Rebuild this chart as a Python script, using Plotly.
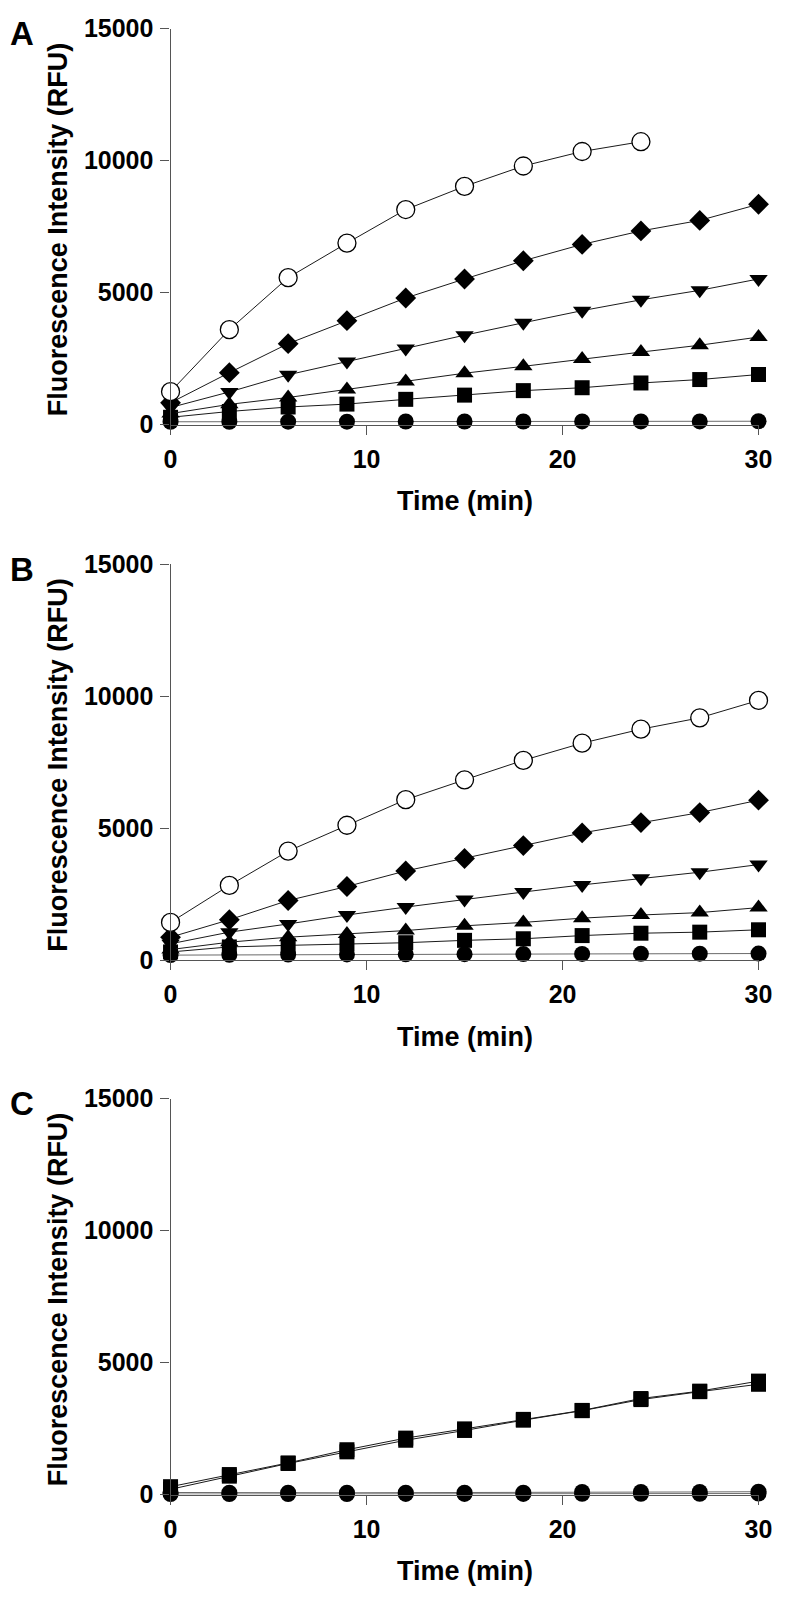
import plotly.graph_objects as go

# ---------------- data ----------------
time = [0, 3, 6, 9, 12, 15, 18, 21, 24, 27, 30]
time_open_A = [0, 3, 6, 9, 12, 15, 18, 21, 24]

A_open = [1250, 3600, 5570, 6880, 8150, 9030, 9800, 10350, 10720]
A_diamond = [830, 1970, 3070, 3940, 4800, 5520, 6210, 6830, 7340, 7740, 8350]
A_tri_down = [650, 1240, 1890, 2390, 2890, 3390, 3860, 4320, 4730, 5090, 5520]
A_tri_up = [420, 770, 1030, 1330, 1640, 1950, 2210, 2490, 2750, 3010, 3320]
A_square = [280, 500, 670, 780, 960, 1120, 1290, 1400, 1580, 1710, 1900]
A_circle = [110, 110, 115, 115, 120, 120, 120, 125, 125, 125, 130]

B_open = [1430, 2830, 4130, 5110, 6080, 6830, 7570, 8220, 8750, 9180, 9840]
B_diamond = [870, 1530, 2260, 2790, 3380, 3850, 4340, 4820, 5210, 5590, 6060]
B_tri_down = [620, 1060, 1370, 1710, 2010, 2300, 2580, 2850, 3100, 3330, 3620]
B_tri_up = [400, 680, 870, 990, 1120, 1300, 1430, 1590, 1710, 1800, 1990]
B_square = [310, 500, 560, 620, 660, 750, 810, 930, 1020, 1060, 1150]
B_circle = [190, 200, 210, 215, 220, 225, 230, 235, 240, 245, 250]

C_square1 = [300, 760, 1200, 1700, 2140, 2490, 2850, 3190, 3640, 3920, 4300]
C_square2 = [200, 700, 1180, 1620, 2060, 2430, 2820, 3180, 3600, 3900, 4180]
C_circle1 = [80, 70, 70, 70, 75, 75, 75, 100, 100, 100, 110]
C_circle2 = [20, 20, 20, 20, 25, 25, 25, 30, 30, 30, 40]

y_ticks = [0, 5000, 10000, 15000]
x_ticks = [0, 10, 20, 30]
panel_letters = ["A", "B", "C"]
y_title = "Fluorescence Intensity (RFU)"
x_title = "Time (min)"

# ---------------- layout geometry ----------------
W, H = 792, 1599
x_dom = [168 / W, 772 / W]
panels_px = [(15, 418), (560, 963), (1104, 1507)]  # (top, bottom) in px
y_doms = [[1 - b / H, 1 - t / H] for t, b in panels_px]

FONT = "Liberation Sans, Arial, Helvetica, sans-serif"
LINE = "#1a1a1a"
GREY = "#6a6a6a"

fig = go.Figure()


def add(xs, ys, sym, size, panel, open_=False, lc=LINE):
    ax = "" if panel == 1 else str(panel)
    fig.add_trace(go.Scatter(
        x=xs, y=ys, mode="lines+markers",
        xaxis="x" + ax, yaxis="y" + ax,
        line=dict(color=lc, width=1),
        marker=dict(symbol=sym, size=size,
                    color="white" if open_ else "black",
                    line=dict(color="black", width=1.3 if open_ else 0)),
        cliponaxis=False, showlegend=False, hoverinfo="skip"))


# Panel A
add(time, A_circle, "circle", 16, 1, lc=GREY)
add(time, A_square, "square", 15, 1)
add(time, A_tri_up, "triangle-up", 16, 1)
add(time, A_tri_down, "triangle-down", 16, 1)
add(time, A_diamond, "diamond", 16, 1)
add(time_open_A, A_open, "circle", 18, 1, open_=True)

# Panel B
add(time, B_circle, "circle", 16, 2, lc=GREY)
add(time, B_square, "square", 15, 2)
add(time, B_tri_up, "triangle-up", 16, 2)
add(time, B_tri_down, "triangle-down", 16, 2)
add(time, B_diamond, "diamond", 16, 2)
add(time, B_open, "circle", 18, 2, open_=True)

# Panel C
add(time, C_circle2, "circle", 16, 3, lc=GREY)
add(time, C_circle1, "circle", 16, 3, lc=GREY)
add(time, C_square2, "square", 15, 3)
add(time, C_square1, "square", 15, 3)

axis_common = dict(
    showgrid=False, zeroline=False, showline=True, linecolor="#555555",
    linewidth=1.2, ticks="outside", ticklen=9, tickwidth=1.2,
    tickcolor="#555555",
    tickfont=dict(family=FONT, size=25, color="black", weight="bold"),
)

layout = dict(
    width=W, height=H, paper_bgcolor="white", plot_bgcolor="white",
    margin=dict(l=0, r=0, t=0, b=0), showlegend=False,
)

annotations = []
for i in range(3):
    sfx = "" if i == 0 else str(i + 1)
    layout["xaxis" + sfx] = dict(
        axis_common, domain=x_dom, range=[0, 30], anchor="y" + sfx,
        tickvals=x_ticks, ticktext=[str(v) for v in x_ticks],
        ticklabelstandoff=3)
    layout["yaxis" + sfx] = dict(
        axis_common, domain=y_doms[i], range=[0, 15000], anchor="x" + sfx,
        tickvals=y_ticks, ticktext=[str(v) for v in y_ticks],
        ticklabelstandoff=2)
    top, bot = panels_px[i]
    annotations.append(dict(
        text="<b>%s</b>" % panel_letters[i], x=15 / W, y=1 - (top + 5) / H,
        xref="paper", yref="paper", showarrow=False,
        xanchor="center", yanchor="middle",
        font=dict(family=FONT, size=33, color="black")))
    annotations.append(dict(
        text="<b>%s</b>" % y_title, x=52 / W, y=1 - ((top + bot) / 2 + 3) / H,
        xref="paper", yref="paper", showarrow=False, textangle=-90,
        xanchor="center", yanchor="middle",
        font=dict(family=FONT, size=27, color="black")))
    annotations.append(dict(
        text="<b>%s</b>" % x_title, x=470 / W, y=1 - (bot + 78) / H,
        xref="paper", yref="paper", showarrow=False,
        xanchor="center", yanchor="middle",
        font=dict(family=FONT, size=27, color="black")))

layout["annotations"] = annotations
fig.update_layout(**layout)
fig.write_html(
    "out.html",
    config={"displayModeBar": False},
    post_script="document.body.style.margin='0';"
                "document.body.style.overflow='hidden';")
